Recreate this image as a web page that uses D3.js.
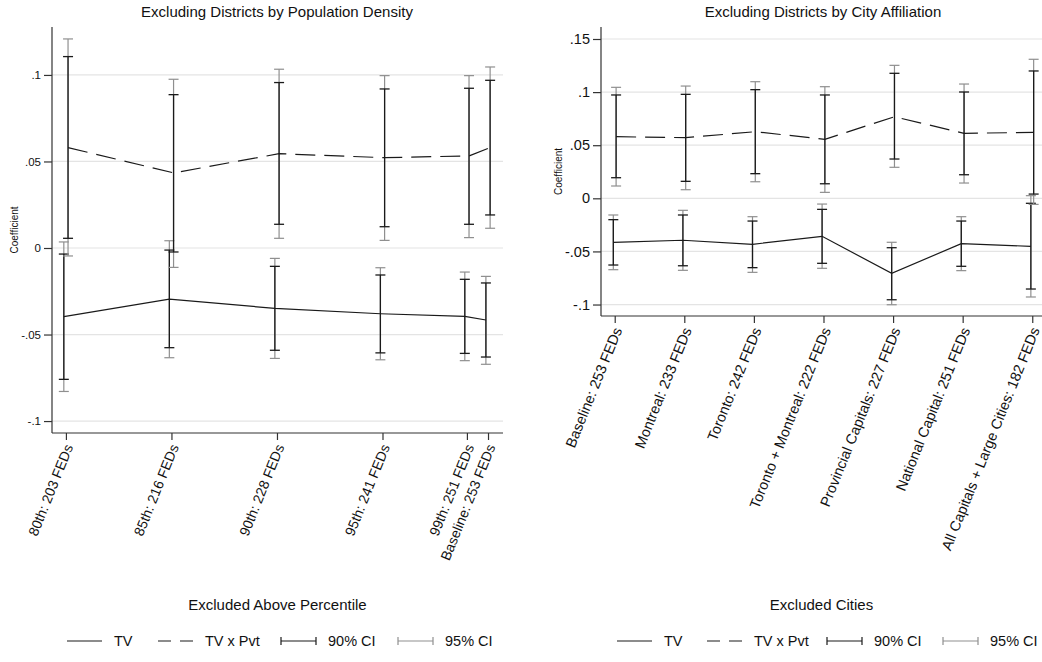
<!DOCTYPE html>
<html>
<head>
<meta charset="utf-8">
<script src="https://cdn.jsdelivr.net/npm/d3@7"></script>
<style>
  html, body { margin: 0; padding: 0; background: #fff; }
  svg { display: block; font-family: "Liberation Sans", Arial, Helvetica, sans-serif; }
</style>
</head>
<body>
<svg id="chart" width="1042" height="662"></svg>
<script>
// ---- Panel 1: excluding districts by population density ----
const densityLabels = ["80th: 203 FEDs", "85th: 216 FEDs", "90th: 228 FEDs", "95th: 241 FEDs", "99th: 251 FEDs", "Baseline: 253 FEDs"];
const densityPct = [80, 85, 90, 95, 99, 100];
const densityTV = [-0.0397, -0.0295, -0.0349, -0.0380, -0.0395, -0.0416];
const densityTV_lo90 = [-0.0759, -0.0576, -0.0591, -0.0606, -0.0609, -0.0630];
const densityTV_hi90 = [-0.0035, -0.0012, -0.0106, -0.0156, -0.0181, -0.0202];
const densityTV_lo95 = [-0.0829, -0.0634, -0.0638, -0.0646, -0.0651, -0.0672];
const densityTV_hi95 = [0.0035, 0.0042, -0.0060, -0.0114, -0.0139, -0.0164];
const densityPvt = [0.0580, 0.0434, 0.0545, 0.0522, 0.0532, 0.0580];
const densityPvt_lo90 = [0.0056, -0.0023, 0.0137, 0.0123, 0.0137, 0.0191];
const densityPvt_hi90 = [0.1106, 0.0886, 0.0956, 0.0919, 0.0923, 0.0969];
const densityPvt_lo95 = [-0.0046, -0.0112, 0.0056, 0.0044, 0.0060, 0.0114];
const densityPvt_hi95 = [0.1208, 0.0975, 0.1033, 0.0996, 0.0996, 0.1046];

// ---- Panel 2: excluding districts by city affiliation ----
const cityLabels = ["Baseline: 253 FEDs", "Montreal: 233 FEDs", "Toronto: 242 FEDs", "Toronto + Montreal: 222 FEDs", "Provincial Capitals: 227 FEDs", "National Capital: 251 FEDs", "All Capitals + Large Cities: 182 FEDs"];
const cityPos = [1, 2, 3, 4, 5, 6, 7];
const cityTV = [-0.0414, -0.0395, -0.0433, -0.0358, -0.0706, -0.0427, -0.0452];
const cityTV_lo90 = [-0.0628, -0.0635, -0.0653, -0.0612, -0.0955, -0.0640, -0.0854];
const cityTV_hi90 = [-0.0201, -0.0157, -0.0214, -0.0104, -0.0465, -0.0214, -0.0047];
const cityTV_lo95 = [-0.0672, -0.0678, -0.0697, -0.0659, -0.1002, -0.0681, -0.0929];
const cityTV_hi95 = [-0.0157, -0.0113, -0.0173, -0.0054, -0.0414, -0.0173, 0.0025];
const cityPvt = [0.0580, 0.0571, 0.0627, 0.0556, 0.0768, 0.0612, 0.0621];
const cityPvt_lo90 = [0.0194, 0.0160, 0.0232, 0.0137, 0.0370, 0.0222, 0.0040];
const cityPvt_hi90 = [0.0973, 0.0979, 0.1023, 0.0973, 0.1177, 0.1001, 0.1199];
const cityPvt_lo95 = [0.0116, 0.0081, 0.0156, 0.0056, 0.0292, 0.0144, -0.0057];
const cityPvt_hi95 = [0.1045, 0.1057, 0.1098, 0.1051, 0.1252, 0.1076, 0.1309];

// ---- Axis ticks ----
const densityYTicks = [-0.1, -0.05, 0, 0.05, 0.1];
const densityYTickLabels = ["-.1", "-.05", "0", ".05", ".1"];
const cityYTicks = [-0.1, -0.05, 0, 0.05, 0.1, 0.15];
const cityYTickLabels = ["-.1", "-.05", "0", ".05", ".1", ".15"];

// ---- Legend entries ----
const legendLabels = ["TV", "TV x Pvt", "90% CI", "95% CI"];

const INK = "#1a1a1a";
const GREY95 = "#8f8f8f";
const GRID = "#e4e4e4";

const svg = d3.select("#chart");

function buildSeries(xs, est, lo90, hi90, lo95, hi95) {
  return xs.map((x, i) => ({ x, est: est[i], lo90: lo90[i], hi90: hi90[i], lo95: lo95[i], hi95: hi95[i] }));
}

function drawPanel(cfg) {
  const g = svg.append("g");
  const x = d3.scaleLinear().domain(cfg.xDomain).range([cfg.left, cfg.right]);
  const y = d3.scaleLinear().domain(cfg.yDomain).range([cfg.bottom, cfg.top]);

  // Title
  g.append("text")
    .attr("x", cfg.titleX).attr("y", 17)
    .attr("text-anchor", "middle")
    .attr("font-size", 15).attr("fill", "#111")
    .text(cfg.title);

  // Horizontal gridlines
  g.append("g").selectAll("line").data(cfg.yTicks).join("line")
    .attr("x1", cfg.left).attr("x2", cfg.right)
    .attr("y1", d => y(d)).attr("y2", d => y(d))
    .attr("stroke", GRID).attr("stroke-width", 1.2);

  // Y axis
  const yAxis = d3.axisLeft(y).tickValues(cfg.yTicks)
    .tickFormat((d, i) => cfg.yTickLabels[i]).tickSize(8).tickPadding(3);
  const yg = g.append("g").attr("transform", `translate(${cfg.left},0)`).call(yAxis);
  yg.select(".domain").attr("d", `M0,${cfg.top}V${cfg.bottom}`).attr("stroke", "#333").attr("stroke-width", 1.2);
  yg.selectAll(".tick line").attr("stroke", "#333").attr("stroke-width", 1.2);
  yg.selectAll(".tick text").attr("font-size", cfg.yTickFont).attr("fill", "#111")
    .attr("font-family", "Liberation Sans, Arial, sans-serif");

  // X axis
  const xAxis = d3.axisBottom(x).tickValues(cfg.xTicks).tickSize(7).tickFormat(() => "");
  const xg = g.append("g").attr("transform", `translate(0,${cfg.bottom})`).call(xAxis);
  xg.select(".domain").attr("d", `M${cfg.left},0H${cfg.right}`).attr("stroke", "#333").attr("stroke-width", 1.2);
  xg.selectAll(".tick line").attr("stroke", "#333").attr("stroke-width", 1.2);

  // Rotated category labels
  g.append("g").selectAll("text").data(cfg.xTicks).join("text")
    .attr("transform", d => `translate(${x(d) + 3},${cfg.bottom + 12}) rotate(-68)`)
    .attr("text-anchor", "end").attr("dy", "0.35em")
    .attr("font-size", cfg.xLabelFont).attr("fill", "#111")
    .text((d, i) => cfg.xLabels[i]);

  // Axis titles
  g.append("text")
    .attr("transform", `translate(${cfg.yTitleX},${(cfg.top + cfg.bottom) / 2}) rotate(-90)`)
    .attr("text-anchor", "middle").attr("dy", "0.35em")
    .attr("font-size", 10).attr("fill", "#111")
    .text("Coefficient");
  g.append("text")
    .attr("x", (cfg.left + cfg.right) / 2).attr("y", 610)
    .attr("text-anchor", "middle").attr("font-size", 15).attr("fill", "#111")
    .text(cfg.xTitle);

  // Confidence intervals and point-estimate lines
  const plot = g.append("g");
  const cap = 5;
  cfg.series.forEach(s => {
    const data = s.data.map(d => ({ ...d, px: x(d.x + s.offset) }));
    // 95% CI (grey), drawn first
    const ci95 = plot.append("g").attr("stroke", GREY95).attr("stroke-width", 1.2);
    data.forEach(d => {
      ci95.append("line").attr("x1", d.px).attr("x2", d.px).attr("y1", y(d.lo95)).attr("y2", y(d.hi95));
      ci95.append("line").attr("x1", d.px - cap).attr("x2", d.px + cap).attr("y1", y(d.lo95)).attr("y2", y(d.lo95));
      ci95.append("line").attr("x1", d.px - cap).attr("x2", d.px + cap).attr("y1", y(d.hi95)).attr("y2", y(d.hi95));
    });
    // 90% CI (black)
    const ci90 = plot.append("g").attr("stroke", INK).attr("stroke-width", 1.3);
    data.forEach(d => {
      ci90.append("line").attr("x1", d.px).attr("x2", d.px).attr("y1", y(d.lo90)).attr("y2", y(d.hi90));
      ci90.append("line").attr("x1", d.px - cap).attr("x2", d.px + cap).attr("y1", y(d.lo90)).attr("y2", y(d.lo90));
      ci90.append("line").attr("x1", d.px - cap).attr("x2", d.px + cap).attr("y1", y(d.hi90)).attr("y2", y(d.hi90));
    });
    // Point estimates
    plot.append("path")
      .attr("d", d3.line().x(d => d.px).y(d => y(d.est))(data))
      .attr("fill", "none").attr("stroke", INK).attr("stroke-width", 1.2)
      .attr("stroke-dasharray", s.dash || null);
  });

  // Legend
  const lg = g.append("g").attr("transform", `translate(0,641)`);
  const keys = cfg.legendX;
  // TV
  lg.append("line").attr("x1", keys[0]).attr("x2", keys[0] + 35).attr("stroke", INK).attr("stroke-width", 1.2);
  // TV x Pvt
  lg.append("line").attr("x1", keys[1]).attr("x2", keys[1] + 35).attr("stroke", INK).attr("stroke-width", 1.2)
    .attr("stroke-dasharray", "13,9");
  // 90% / 95% CI keys
  [[keys[2], INK], [keys[3], GREY95]].forEach(([kx, col]) => {
    const kg = lg.append("g").attr("stroke", col).attr("stroke-width", 1.2);
    kg.append("line").attr("x1", kx).attr("x2", kx + 35);
    kg.append("line").attr("x1", kx).attr("x2", kx).attr("y1", -4).attr("y2", 4);
    kg.append("line").attr("x1", kx + 35).attr("x2", kx + 35).attr("y1", -4).attr("y2", 4);
  });
  legendLabels.forEach((t, i) => {
    lg.append("text").attr("x", keys[i] + 47).attr("y", 0).attr("dy", "0.35em")
      .attr("font-size", 14.5).attr("fill", "#111").text(t);
  });
}

drawPanel({
  title: "Excluding Districts by Population Density",
  titleX: 277,
  xTitle: "Excluded Above Percentile",
  left: 52, right: 503, top: 27, bottom: 433,
  xDomain: [79.34, 100.71],
  yDomain: [-0.1069, 0.1277],
  xTicks: densityPct, xLabels: densityLabels, xLabelFont: 14,
  yTicks: densityYTicks, yTickLabels: densityYTickLabels, yTickFont: 11.5,
  yTitleX: 14,
  legendX: [67, 158, 281, 398],
  series: [
    { data: buildSeries(densityPct, densityTV, densityTV_lo90, densityTV_hi90, densityTV_lo95, densityTV_hi95), offset: -0.1 },
    { data: buildSeries(densityPct, densityPvt, densityPvt_lo90, densityPvt_hi90, densityPvt_lo95, densityPvt_hi95), offset: 0.1, dash: "20,9" }
  ]
});

drawPanel({
  title: "Excluding Districts by City Affiliation",
  titleX: 823,
  xTitle: "Excluded Cities",
  left: 601, right: 1042, top: 27, bottom: 316,
  xDomain: [0.803, 7.14],
  yDomain: [-0.1108, 0.1613],
  xTicks: cityPos, xLabels: cityLabels, xLabelFont: 14.5,
  yTicks: cityYTicks, yTickLabels: cityYTickLabels, yTickFont: 14.5,
  yTitleX: 558,
  legendX: [617, 707, 827, 943],
  series: [
    { data: buildSeries(cityPos, cityTV, cityTV_lo90, cityTV_hi90, cityTV_lo95, cityTV_hi95), offset: -0.02 },
    { data: buildSeries(cityPos, cityPvt, cityPvt_lo90, cityPvt_hi90, cityPvt_lo95, cityPvt_hi95), offset: 0.02, dash: "20,9" }
  ]
});
</script>
</body>
</html>
